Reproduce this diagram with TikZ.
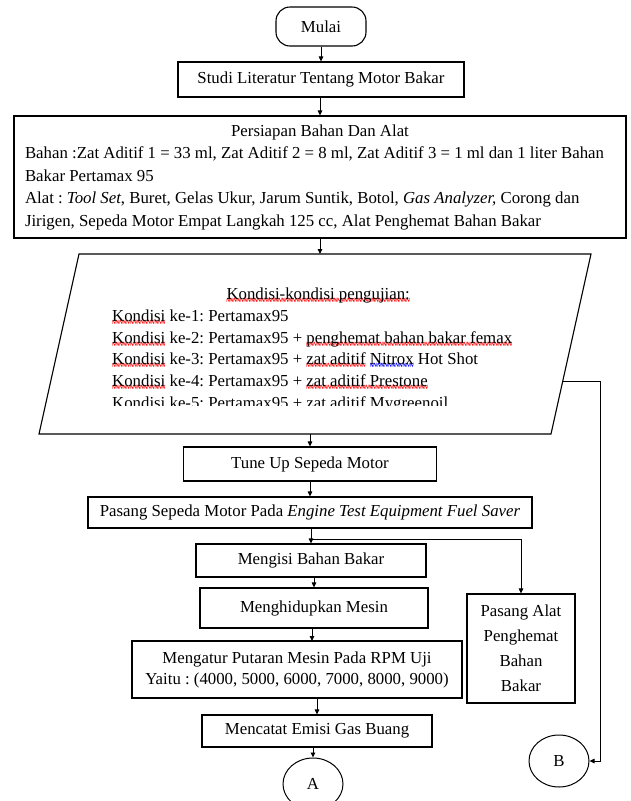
\documentclass[tikz,border=0pt]{standalone}
\usepackage{fontspec}
\setmainfont{Liberation Serif}
\usepackage{graphicx}
\usetikzlibrary{arrows.meta,shapes.geometric}
\newsavebox\wvbox
\newcommand\wavy[2]{\leavevmode\sbox\wvbox{#2}%
  \rlap{\color{#1}\raisebox{-8pt}[0pt][0pt]{\hbox to\wd\wvbox{\xleaders\hbox{\scalebox{0.6}[2]{\fontsize{11}{11}\selectfont\bfseries\char126}}\hfil}}}\usebox\wvbox}
\newcommand\rw[1]{\wavy{red}{#1}}
\newcommand\bw[1]{\wavy{blue}{#1}}
\begin{document}
\frenchspacing
\begin{tikzpicture}[x=1pt,y=-1pt,
  txt/.style={font=\fontsize{16.8}{21.5}\selectfont},
  box/.style={draw,line width=1.1pt,inner sep=0pt,align=center,txt},
  arr/.style={line width=0.9pt,-{Triangle[length=5pt,width=4.5pt]}},
  term/.style={draw,line width=1pt,ellipse,inner sep=0pt,minimum width=60pt,minimum height=52pt,txt}]
\useasboundingbox (0,0) rectangle (631,801);
\clip (0,0) rectangle (631,801);

% nodes
\node[box,rounded corners=14pt,minimum width=90pt,minimum height=39pt] (start) at (321,26.5) {Mulai};
\node[box,minimum width=286pt,minimum height=35pt] (studi) at (321,79.5) {Studi Literatur Tentang Motor Bakar};
\node[box,minimum width=612pt,minimum height=122pt,align=left,
      font=\fontsize{16.8}{22.5}\selectfont] (prep) at (320,177)
  {\makebox[590pt]{Persiapan Bahan Dan Alat}\\
   Bahan :Zat Aditif 1 = 33 ml, Zat Aditif 2 = 8 ml, Zat Aditif 3 = 1 ml dan 1 liter Bahan\\
   Bakar Pertamax 95\\
   Alat : \textit{Tool Set}, Buret, Gelas Ukur, Jarum Suntik, Botol, \textit{Gas Analyzer,} Corong dan\\
   Jirigen, Sepeda Motor Empat Langkah 125 cc, Alat Penghemat Bahan Bakar};

% parallelogram (input/output)
\coordinate (p1) at (79,254);
\coordinate (p2) at (591,254);
\coordinate (p3) at (551,434);
\coordinate (p4) at (39,434);
\draw[line width=1.1pt] (p1) -- (p2) -- (p3) -- (p4) -- cycle;
\begin{scope}
\clip (40,250) rectangle (600,405);
\node[anchor=north west,inner sep=0pt,align=left,
      font=\fontsize{16.8}{21.7}\selectfont] (cond) at (112,288)
  {\makebox[412pt]{\rw{Kondisi-kondisi pengujian:}}\\
   \rw{Kondisi} ke-1: Pertamax95\\
   \rw{Kondisi} ke-2: Pertamax95 + \rw{penghemat bahan bakar femax}\\
   \rw{Kondisi} ke-3: Pertamax95 + \rw{zat aditif} \bw{Nitrox} Hot Shot\\
   \rw{Kondisi} ke-4: Pertamax95 + \rw{zat aditif Prestone}\\
   \rw{Kondisi} ke-5: Pertamax95 + \rw{zat aditif Mygreenoil}};
\end{scope}

\node[box,minimum width=253pt,minimum height=34pt] (tune) at (310,464) {Tune Up Sepeda Motor};
\node[box,minimum width=444pt,minimum height=31pt] (pasang) at (310,512.5)
  {Pasang Sepeda Motor Pada \textit{Engine Test Equipment Fuel Saver}};
\node[box,minimum width=230pt,minimum height=33pt] (isi) at (311,560.5) {Mengisi Bahan Bakar};
\node[box,minimum width=228pt,minimum height=40pt] (hidup) at (314,608) {Menghidupkan Mesin};
\node[box,minimum width=330pt,minimum height=57pt,font=\fontsize{16.8}{21}\selectfont] (atur) at (297,669.5)
  {Mengatur Putaran Mesin Pada RPM Uji\\ Yaitu : (4000, 5000, 6000, 7000, 8000, 9000)};
\node[box,minimum width=230pt,minimum height=32pt] (catat) at (317,731) {Mencatat Emisi Gas Buang};
\node[box,minimum width=108pt,minimum height=109pt,font=\fontsize{16.8}{25}\selectfont] (alat) at (521,648.5)
  {Pasang Alat\\ Penghemat\\ Bahan\\ Bakar};
\node[term] (A) at (313,784) {A};
\node[term] (B) at (559,761) {B};

% connectors
\draw[arr] (start.south) -- (studi.north);
\draw[arr] (studi.south -| prep.north) -- (prep.north);
\draw[arr] (prep.south) -- (prep.south |- p1);
\draw[arr] (tune.north |- p4) -- (tune.north);
\draw[arr] (tune.south) -- (tune.south |- pasang.north);
\draw[arr] (isi.north |- pasang.south) -- (isi.north);
\coordinate (j) at (311,539);
\draw[arr] (j) -| (alat.north);
\draw[arr] (isi.south -| hidup.north) -- (hidup.north);
\coordinate (h) at (312,641);
\draw[arr] (hidup.south -| h) -- (h);
\draw[arr] (atur.south -| catat.north) -- (catat.north);
\draw[arr] (A.north |- catat.south) -- (A.north);
\coordinate (r) at (562.8,381);
\draw[arr] (r) -- (600,381) |- (B.east);
\end{tikzpicture}
\end{document}
